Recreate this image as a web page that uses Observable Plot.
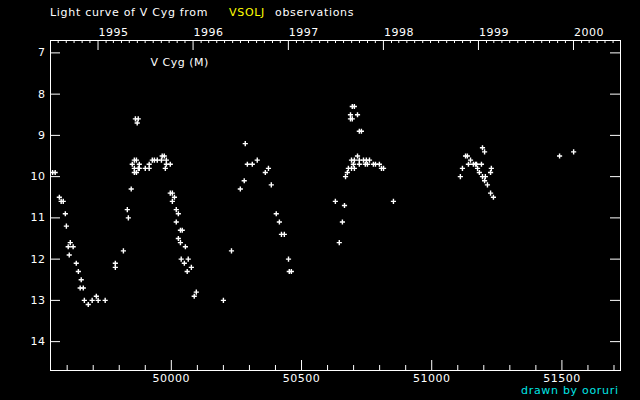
<!DOCTYPE html>
<html><head><meta charset="utf-8">
<script src="https://cdn.jsdelivr.net/npm/d3@7"></script>
<script src="https://cdn.jsdelivr.net/npm/@observablehq/plot@0.6"></script>
<style>
html,body{margin:0;padding:0;background:#000;}
#wrap{position:relative;width:640px;height:400px;background:#000;overflow:hidden;font-family:"DejaVu Sans",sans-serif;}
#wrap svg{position:absolute;left:0;top:0;}
.t{position:absolute;white-space:pre;font-size:11px;line-height:1;letter-spacing:0.7px;color:#fff;z-index:2;}
</style></head><body>
<div id="wrap">
<div class="t" style="left:50px;top:7px">Light curve of V Cyg from</div>
<div class="t" style="left:229px;top:7px;color:#ffff00">VSOLJ</div>
<div class="t" style="left:275px;top:7px">observations</div>
<div class="t" style="left:521px;top:385px;color:#00e5e5">drawn by ooruri</div>
</div>
<script>
// Julian Date - 2400000
const jd = [
  49544,49554,49570,49577,49585,49593,49597,49612,49604,49623,
  49608,49635,49643,49654,49650,49662,49666,49681,49696,49712,
  49719,49746,49785,49785,49816,49831,49835,49846,49858,49866,
  49850,49877,49858,49873,49877,49858,49866,49862,49873,49869,
  49900,49915,49915,49927,49935,49946,49962,49965,49973,49981,
  49981,49996,49977,49996,50004,50012,50004,50019,50027,50019,
  50035,50042,50027,50035,50054,50038,50065,50050,50077,50061,
  50096,50088,50200,50231,50265,50280,50284,50292,50311,50330,
  50373,50361,50384,50403,50415,50423,50434,50450,50453,50461,
  50630,50645,50657,50665,50669,50676,50680,50692,50703,50699,
  50692,50703,50715,50722,50738,50749,50761,50722,50745,50753,
  50776,50784,50799,50807,50815,50853,50695,50703,50688,50715,
  50688,50695,50722,50730,
  51110,51118,51130,51137,51149,51141,51160,51168,51172,51191,
  51176,51183,51195,51206,51203,51214,51226,51237,51195,51203,
  51229,51226,51491,51545
];
// visual magnitude
const mag = [
  9.9,9.9,10.5,10.6,10.6,10.9,11.2,11.6,11.7,11.7,
  11.9,12.1,12.3,12.5,12.7,12.7,13.0,13.1,13.0,12.9,
  13.0,13.0,12.1,12.2,11.8,10.8,11.0,10.3,9.9,9.9,
  9.7,9.7,9.8,9.8,9.8,9.6,9.6,8.6,8.6,8.7,
  9.8,9.8,9.7,9.6,9.6,9.6,9.6,9.5,9.5,9.6,
  9.7,9.7,9.8,10.4,10.4,10.5,10.6,10.8,10.9,11.1,
  11.3,11.3,11.5,11.6,11.7,12.0,12.0,12.1,12.2,12.3,
  12.8,12.9,13.0,11.8,10.3,10.1,9.2,9.7,9.7,9.6,
  9.8,9.9,10.2,10.9,11.1,11.4,11.4,12.0,12.3,12.3,
  10.6,11.6,11.1,10.7,10.0,9.9,9.8,9.8,9.8,9.7,
  9.6,9.6,9.5,9.6,9.6,9.6,9.6,9.7,9.7,9.7,
  9.7,9.7,9.7,9.8,9.8,10.6,8.3,8.3,8.5,8.5,
  8.6,8.6,8.9,8.9,
  10.0,9.8,9.5,9.5,9.6,9.7,9.7,9.7,9.7,9.7,
  9.8,9.9,10.0,10.0,10.1,10.2,10.4,10.5,9.3,9.4,
  9.8,9.9,9.5,9.4
];
const starLabel = "V Cyg (M)";
const yearLabels = [1995, 1996, 1997, 1998, 1999, 2000];
const xTickLabels = [50000, 50500, 51000, 51500];
const yTickLabels = [7, 8, 9, 10, 11, 12, 13, 14];
const xDomain = [49536, 51725];
const yDomain = [6.7, 14.7];

const points = jd.map((d, i) => ({jd: d, mag: mag[i]}));
const toJD = (ms) => ms / 86400000 + 40587.5;
const inDomain = (v) => v >= xDomain[0] && v <= xDomain[1];
const yearTicks = yearLabels.map(y => ({year: y, jd: toJD(Date.UTC(y, 0, 1))}));
const monthTicks = d3.utcMonth.range(new Date(Date.UTC(1994, 0, 1)), new Date(Date.UTC(2001, 0, 1)))
  .filter(d => d.getUTCMonth() !== 0).map(d => toJD(+d)).filter(inDomain);
const minorX = d3.range(49600, 51701, 100).filter(v => v % 500 !== 0 && inDomain(v));

const chart = Plot.plot({
  width: 640, height: 400,
  marginLeft: 50, marginRight: 20, marginTop: 40, marginBottom: 30,
  style: {background: "#000", color: "#fff", fontFamily: "DejaVu Sans, sans-serif", fontSize: "11px", letterSpacing: "0.5px"},
  x: {domain: xDomain, label: null},
  y: {domain: yDomain, reverse: true, label: null},
  marks: [
    Plot.frame({stroke: "white"}),
    Plot.axisX(xTickLabels, {anchor: "bottom", tickSize: 0, tickPadding: 4, tickFormat: d => String(d), label: null}),
    Plot.axisY(yTickLabels, {anchor: "left", tickSize: 0, tickPadding: 5, tickFormat: d => String(d), label: null}),
    // bottom ticks (inward)
    Plot.ruleX(xTickLabels, {stroke: "white", insetTop: 320}),
    Plot.ruleX(minorX, {stroke: "white", insetTop: 325}),
    // top year ticks (inward)
    Plot.ruleX(yearTicks, {x: "jd", stroke: "white", insetBottom: 320}),
    Plot.ruleX(monthTicks, {stroke: "white", insetBottom: 327}),
    // left & right magnitude ticks
    Plot.ruleY(yTickLabels, {stroke: "white", insetRight: 560}),
    Plot.ruleY(yTickLabels, {stroke: "white", insetLeft: 560}),
    Plot.text(yearTicks, {x: "jd", text: d => String(d.year), frameAnchor: "top", dy: -12, dx: 0.5, textAnchor: "start", fill: "white"}),
    Plot.text([starLabel], {frameAnchor: "top-left", dx: 100, dy: 18, textAnchor: "start", fill: "white"}),
    Plot.dot(points, {x: "jd", y: "mag", symbol: "plus", r: 1.8, stroke: "white", strokeWidth: 1.4})
  ]
});
document.getElementById("wrap").appendChild(chart);
</script>
</body></html>
